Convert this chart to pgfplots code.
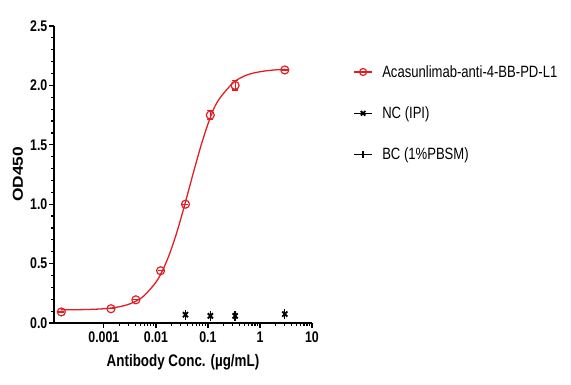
\documentclass[border=0pt]{standalone}
\usepackage{fontspec}
\setmainfont{Liberation Sans}[FakeStretch=0.8]
\newfontfamily\ylfont{Liberation Sans}[FakeStretch=1.2]
\usepackage{pgfplots}
\pgfplotsset{compat=1.18}
\definecolor{myred}{RGB}{226,30,36}

\begin{document}
\begin{tikzpicture}
\path[use as bounding box] (0,0) rectangle (571bp,385bp);
\begin{axis}[
  at={(54bp,62bp)}, anchor=south west,
  scale only axis, width=258bp, height=297bp,
  xmode=log, xmin=1.1e-4, xmax=10,
  ymin=0, ymax=2.5,
  clip=false,
  axis x line*=bottom, axis y line*=left,
  axis line style={line width=1.8pt, -},
  tick style={black, line width=1.2pt},
  major tick length=5bp, minor tick length=3bp,
  tick align=outside,
  ytick={0,0.5,1,1.5,2,2.5},
  minor y tick num=4,
  xtick={0.001,0.01,0.1,1,10},
  xticklabels={0.001,0.01,0.1,1,10},
  tick label style={font=\bfseries\fontsize{15.5}{15.5}\selectfont},
  yticklabel style={inner sep=1.5bp, /pgf/number format/.cd, fixed, fixed zerofill, precision=1, assume math mode=true},
  xlabel={Antibody Conc. (µg/mL)},
  xlabel style={font=\bfseries\fontsize{16.8}{16.8}\selectfont, at={(axis description cs:0.5,-0.146)}, anchor=base},
  ylabel={OD450},
  ylabel style={font=\ylfont\bfseries\fontsize{14.5}{14.5}\selectfont, at={(axis description cs:-0.14,0.5)}, anchor=center},
  legend style={draw=none, fill=none, at={(axis description cs:1.16,0.875)}, anchor=north west,
    font=\fontsize{16.4}{16.4}\selectfont, row sep=24bp, inner sep=0pt},
  legend cell align=left,
]
\addplot[myred, line width=1.3pt, smooth, forget plot] coordinates {
(1.479e-4,0.1107)(3.162e-4,0.112)(5.623e-4,0.1147)(0.001,0.120)(0.001778,0.133)
(0.003162,0.161)(0.005623,0.221)(0.01,0.343)(0.01334,0.440)(0.01778,0.567)
(0.02371,0.725)(0.03162,0.910)(0.04217,1.111)(0.05623,1.313)(0.07499,1.505)
(0.1,1.675)(0.1334,1.815)(0.1778,1.905)(0.3162,2.028)(0.5623,2.088)
(1,2.115)(1.778,2.129)(3.02,2.135)};
\addplot[myred, only marks, mark=o, mark size=4bp, mark options={line width=1.2pt},
  legend image code/.code={\draw[myred,line width=1.2pt] (0bp,0bp)--(18bp,0bp);
    \draw[myred,line width=1.2pt] plot[mark=o, mark size=3.5bp] coordinates {(9bp,0bp)};
    \path (26bp,0bp);},
  error bars/.cd, y dir=both, y explicit,
  error bar style={line width=1.2pt, myred},
  error mark options={rotate=90, mark size=3bp, line width=1.2pt, myred}]
coordinates {
(0.000152,0.093) +- (0,0)
(0.00137,0.12) +- (0,0)
(0.00412,0.195) +- (0,0)
(0.0123,0.44) +- (0,0)
(0.037,1.00) +- (0,0)
(0.111,1.75) +- (0,0.04)
(0.333,2.00) +- (0,0.038)
(3.0,2.13) +- (0,0)
};
\addlegendentry{Acasunlimab-anti-4-BB-PD-L1}
\addplot[black, only marks, mark=x, mark size=3.6bp, mark options={line width=1.9pt},
  legend image code/.code={\draw[black,line width=1.2pt] (0bp,0bp)--(18bp,0bp);
    \draw[black,line width=1.4pt] plot[mark=x, mark size=3.2bp] coordinates {(9bp,0bp)};
    \path (26bp,0bp);}]
coordinates {(0.037,0.07)(0.111,0.06)(0.333,0.06)(3,0.075)};
\addlegendentry{NC (IPI)}
\addplot[black, only marks, mark=|, mark size=4.8bp, mark options={line width=1.3pt},
  legend image code/.code={\draw[black,line width=1.2pt] (0bp,0bp)--(18bp,0bp);
    \draw[black,line width=1.2pt] plot[mark=|, mark size=3.8bp] coordinates {(9bp,0bp)};
    \path (26bp,0bp);}]
coordinates {(0.037,0.065)(0.111,0.06)(0.333,0.06)(3,0.078)};
\addlegendentry{BC (1\%PBSM)}
\end{axis}
\end{tikzpicture}
\end{document}
